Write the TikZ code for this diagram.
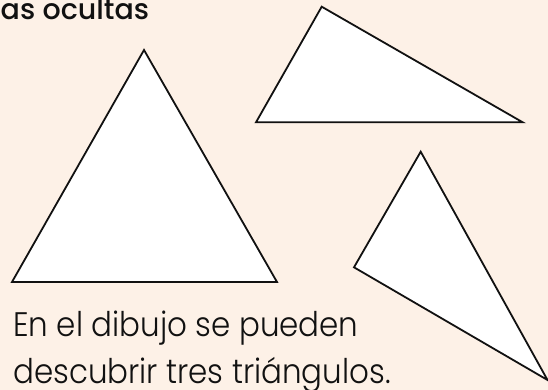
\documentclass[tikz,border=0pt]{standalone}
\usepackage{fontspec}
\newfontfamily\bodyfont{Poppins Light}
\newfontfamily\headfont{Poppins Medium}
\definecolor{bgpeach}{HTML}{FDF1E7}
\definecolor{ink}{HTML}{111111}
\tikzset{
  tri/.style={draw=ink, fill=white, line width=1.8pt, line join=miter},
  bodytext/.style={anchor=base west, inner sep=0pt, text=ink, xscale=0.91, font=\bodyfont\fontsize{34}{40}\selectfont},
  headtext/.style={anchor=base west, inner sep=0pt, text=ink, font=\headfont\fontsize{28.5}{30}\selectfont}
}
\begin{document}
\begin{tikzpicture}[x=1pt,y=-1pt]
\useasboundingbox (0,0) rectangle (548,390);
\fill[bgpeach] (0,0) rectangle (548,390);
\clip (0,0) rectangle (548,390);
% triangles
\draw[tri] (144,50) -- (12,282) -- (277,282) -- cycle;
\draw[tri] (321.7,6.7) -- (256,122.3) -- (522.7,122.3) -- cycle;
\draw[tri] (420.7,151.7) -- (354,267.3) -- (547.5,380) -- cycle;
% texts
\node[headtext] (head) at (0.5,19.5) {as ocultas};
\node[bodytext] (line1) at (13,336.5) {En el dibujo se pueden};
\node[bodytext] (line2) at (13,383) {descubrir tres triángulos.};
\end{tikzpicture}
\end{document}
